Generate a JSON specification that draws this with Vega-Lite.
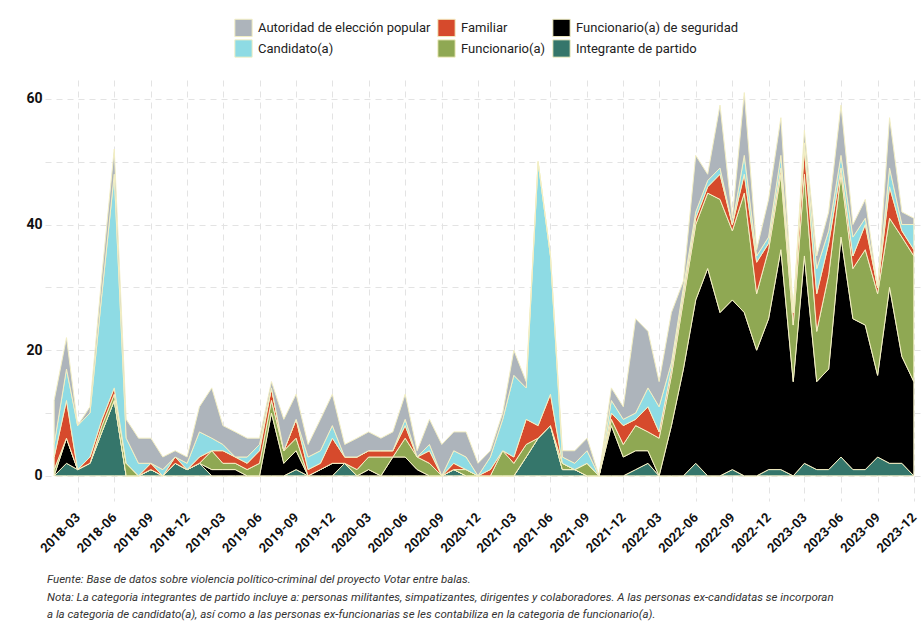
{
"$schema": "https://vega.github.io/schema/vega-lite/v6.json",
"width": 876,
"height": 421,
"autosize": {"type": "none"},
"padding": {"left": 45, "top": 80, "right": 0, "bottom": 121},
"background": "white",
"config": {"view": {"stroke": null}, "font": "Roboto, sans-serif"},
"datasets": {
"conteos": [
{"mes":"2018-01","cat":"Integrante de partido","n":0},{"mes":"2018-01","cat":"Funcionario(a) de seguridad","n":0},{"mes":"2018-01","cat":"Funcionario(a)","n":1},{"mes":"2018-01","cat":"Familiar","n":2},{"mes":"2018-01","cat":"Candidato(a)","n":2},{"mes":"2018-01","cat":"Autoridad de elección popular","n":7},
{"mes":"2018-02","cat":"Integrante de partido","n":2},{"mes":"2018-02","cat":"Funcionario(a) de seguridad","n":4},{"mes":"2018-02","cat":"Funcionario(a)","n":0},{"mes":"2018-02","cat":"Familiar","n":6},{"mes":"2018-02","cat":"Candidato(a)","n":5},{"mes":"2018-02","cat":"Autoridad de elección popular","n":5},
{"mes":"2018-03","cat":"Integrante de partido","n":1},{"mes":"2018-03","cat":"Funcionario(a) de seguridad","n":0},{"mes":"2018-03","cat":"Funcionario(a)","n":0},{"mes":"2018-03","cat":"Familiar","n":0},{"mes":"2018-03","cat":"Candidato(a)","n":7},{"mes":"2018-03","cat":"Autoridad de elección popular","n":0},
{"mes":"2018-04","cat":"Integrante de partido","n":2},{"mes":"2018-04","cat":"Funcionario(a) de seguridad","n":0},{"mes":"2018-04","cat":"Funcionario(a)","n":0},{"mes":"2018-04","cat":"Familiar","n":1},{"mes":"2018-04","cat":"Candidato(a)","n":7},{"mes":"2018-04","cat":"Autoridad de elección popular","n":1},
{"mes":"2018-05","cat":"Integrante de partido","n":7},{"mes":"2018-05","cat":"Funcionario(a) de seguridad","n":0},{"mes":"2018-05","cat":"Funcionario(a)","n":1},{"mes":"2018-05","cat":"Familiar","n":1},{"mes":"2018-05","cat":"Candidato(a)","n":20},{"mes":"2018-05","cat":"Autoridad de elección popular","n":3},
{"mes":"2018-06","cat":"Integrante de partido","n":12},{"mes":"2018-06","cat":"Funcionario(a) de seguridad","n":0},{"mes":"2018-06","cat":"Funcionario(a)","n":1},{"mes":"2018-06","cat":"Familiar","n":1},{"mes":"2018-06","cat":"Candidato(a)","n":34},{"mes":"2018-06","cat":"Autoridad de elección popular","n":4},
{"mes":"2018-07","cat":"Integrante de partido","n":0},{"mes":"2018-07","cat":"Funcionario(a) de seguridad","n":0},{"mes":"2018-07","cat":"Funcionario(a)","n":2},{"mes":"2018-07","cat":"Familiar","n":0},{"mes":"2018-07","cat":"Candidato(a)","n":4},{"mes":"2018-07","cat":"Autoridad de elección popular","n":3},
{"mes":"2018-08","cat":"Integrante de partido","n":0},{"mes":"2018-08","cat":"Funcionario(a) de seguridad","n":0},{"mes":"2018-08","cat":"Funcionario(a)","n":0},{"mes":"2018-08","cat":"Familiar","n":0},{"mes":"2018-08","cat":"Candidato(a)","n":2},{"mes":"2018-08","cat":"Autoridad de elección popular","n":4},
{"mes":"2018-09","cat":"Integrante de partido","n":1},{"mes":"2018-09","cat":"Funcionario(a) de seguridad","n":0},{"mes":"2018-09","cat":"Funcionario(a)","n":0},{"mes":"2018-09","cat":"Familiar","n":1},{"mes":"2018-09","cat":"Candidato(a)","n":0},{"mes":"2018-09","cat":"Autoridad de elección popular","n":4},
{"mes":"2018-10","cat":"Integrante de partido","n":0},{"mes":"2018-10","cat":"Funcionario(a) de seguridad","n":0},{"mes":"2018-10","cat":"Funcionario(a)","n":0},{"mes":"2018-10","cat":"Familiar","n":0},{"mes":"2018-10","cat":"Candidato(a)","n":1},{"mes":"2018-10","cat":"Autoridad de elección popular","n":2},
{"mes":"2018-11","cat":"Integrante de partido","n":2},{"mes":"2018-11","cat":"Funcionario(a) de seguridad","n":0},{"mes":"2018-11","cat":"Funcionario(a)","n":0},{"mes":"2018-11","cat":"Familiar","n":1},{"mes":"2018-11","cat":"Candidato(a)","n":0},{"mes":"2018-11","cat":"Autoridad de elección popular","n":1},
{"mes":"2018-12","cat":"Integrante de partido","n":1},{"mes":"2018-12","cat":"Funcionario(a) de seguridad","n":0},{"mes":"2018-12","cat":"Funcionario(a)","n":0},{"mes":"2018-12","cat":"Familiar","n":0},{"mes":"2018-12","cat":"Candidato(a)","n":1},{"mes":"2018-12","cat":"Autoridad de elección popular","n":1},
{"mes":"2019-01","cat":"Integrante de partido","n":2},{"mes":"2019-01","cat":"Funcionario(a) de seguridad","n":0},{"mes":"2019-01","cat":"Funcionario(a)","n":0},{"mes":"2019-01","cat":"Familiar","n":1},{"mes":"2019-01","cat":"Candidato(a)","n":4},{"mes":"2019-01","cat":"Autoridad de elección popular","n":4},
{"mes":"2019-02","cat":"Integrante de partido","n":0},{"mes":"2019-02","cat":"Funcionario(a) de seguridad","n":1},{"mes":"2019-02","cat":"Funcionario(a)","n":3},{"mes":"2019-02","cat":"Familiar","n":0},{"mes":"2019-02","cat":"Candidato(a)","n":2},{"mes":"2019-02","cat":"Autoridad de elección popular","n":8},
{"mes":"2019-03","cat":"Integrante de partido","n":0},{"mes":"2019-03","cat":"Funcionario(a) de seguridad","n":1},{"mes":"2019-03","cat":"Funcionario(a)","n":1},{"mes":"2019-03","cat":"Familiar","n":2},{"mes":"2019-03","cat":"Candidato(a)","n":1},{"mes":"2019-03","cat":"Autoridad de elección popular","n":3},
{"mes":"2019-04","cat":"Integrante de partido","n":0},{"mes":"2019-04","cat":"Funcionario(a) de seguridad","n":1},{"mes":"2019-04","cat":"Funcionario(a)","n":1},{"mes":"2019-04","cat":"Familiar","n":1},{"mes":"2019-04","cat":"Candidato(a)","n":0},{"mes":"2019-04","cat":"Autoridad de elección popular","n":4},
{"mes":"2019-05","cat":"Integrante de partido","n":0},{"mes":"2019-05","cat":"Funcionario(a) de seguridad","n":0},{"mes":"2019-05","cat":"Funcionario(a)","n":1},{"mes":"2019-05","cat":"Familiar","n":1},{"mes":"2019-05","cat":"Candidato(a)","n":1},{"mes":"2019-05","cat":"Autoridad de elección popular","n":3},
{"mes":"2019-06","cat":"Integrante de partido","n":0},{"mes":"2019-06","cat":"Funcionario(a) de seguridad","n":0},{"mes":"2019-06","cat":"Funcionario(a)","n":2},{"mes":"2019-06","cat":"Familiar","n":2},{"mes":"2019-06","cat":"Candidato(a)","n":1},{"mes":"2019-06","cat":"Autoridad de elección popular","n":1},
{"mes":"2019-07","cat":"Integrante de partido","n":0},{"mes":"2019-07","cat":"Funcionario(a) de seguridad","n":10},{"mes":"2019-07","cat":"Funcionario(a)","n":2},{"mes":"2019-07","cat":"Familiar","n":2},{"mes":"2019-07","cat":"Candidato(a)","n":0},{"mes":"2019-07","cat":"Autoridad de elección popular","n":1},
{"mes":"2019-08","cat":"Integrante de partido","n":0},{"mes":"2019-08","cat":"Funcionario(a) de seguridad","n":2},{"mes":"2019-08","cat":"Funcionario(a)","n":2},{"mes":"2019-08","cat":"Familiar","n":0},{"mes":"2019-08","cat":"Candidato(a)","n":0},{"mes":"2019-08","cat":"Autoridad de elección popular","n":5},
{"mes":"2019-09","cat":"Integrante de partido","n":1},{"mes":"2019-09","cat":"Funcionario(a) de seguridad","n":3},{"mes":"2019-09","cat":"Funcionario(a)","n":2},{"mes":"2019-09","cat":"Familiar","n":3},{"mes":"2019-09","cat":"Candidato(a)","n":0},{"mes":"2019-09","cat":"Autoridad de elección popular","n":4},
{"mes":"2019-10","cat":"Integrante de partido","n":0},{"mes":"2019-10","cat":"Funcionario(a) de seguridad","n":0},{"mes":"2019-10","cat":"Funcionario(a)","n":0},{"mes":"2019-10","cat":"Familiar","n":1},{"mes":"2019-10","cat":"Candidato(a)","n":2},{"mes":"2019-10","cat":"Autoridad de elección popular","n":2},
{"mes":"2019-11","cat":"Integrante de partido","n":0},{"mes":"2019-11","cat":"Funcionario(a) de seguridad","n":1},{"mes":"2019-11","cat":"Funcionario(a)","n":0},{"mes":"2019-11","cat":"Familiar","n":1},{"mes":"2019-11","cat":"Candidato(a)","n":2},{"mes":"2019-11","cat":"Autoridad de elección popular","n":5},
{"mes":"2019-12","cat":"Integrante de partido","n":0},{"mes":"2019-12","cat":"Funcionario(a) de seguridad","n":2},{"mes":"2019-12","cat":"Funcionario(a)","n":0},{"mes":"2019-12","cat":"Familiar","n":4},{"mes":"2019-12","cat":"Candidato(a)","n":2},{"mes":"2019-12","cat":"Autoridad de elección popular","n":5},
{"mes":"2020-01","cat":"Integrante de partido","n":2},{"mes":"2020-01","cat":"Funcionario(a) de seguridad","n":0},{"mes":"2020-01","cat":"Funcionario(a)","n":0},{"mes":"2020-01","cat":"Familiar","n":1},{"mes":"2020-01","cat":"Candidato(a)","n":0},{"mes":"2020-01","cat":"Autoridad de elección popular","n":2},
{"mes":"2020-02","cat":"Integrante de partido","n":0},{"mes":"2020-02","cat":"Funcionario(a) de seguridad","n":0},{"mes":"2020-02","cat":"Funcionario(a)","n":1},{"mes":"2020-02","cat":"Familiar","n":2},{"mes":"2020-02","cat":"Candidato(a)","n":0},{"mes":"2020-02","cat":"Autoridad de elección popular","n":3},
{"mes":"2020-03","cat":"Integrante de partido","n":0},{"mes":"2020-03","cat":"Funcionario(a) de seguridad","n":1},{"mes":"2020-03","cat":"Funcionario(a)","n":2},{"mes":"2020-03","cat":"Familiar","n":1},{"mes":"2020-03","cat":"Candidato(a)","n":0},{"mes":"2020-03","cat":"Autoridad de elección popular","n":3},
{"mes":"2020-04","cat":"Integrante de partido","n":0},{"mes":"2020-04","cat":"Funcionario(a) de seguridad","n":0},{"mes":"2020-04","cat":"Funcionario(a)","n":3},{"mes":"2020-04","cat":"Familiar","n":1},{"mes":"2020-04","cat":"Candidato(a)","n":0},{"mes":"2020-04","cat":"Autoridad de elección popular","n":2},
{"mes":"2020-05","cat":"Integrante de partido","n":0},{"mes":"2020-05","cat":"Funcionario(a) de seguridad","n":3},{"mes":"2020-05","cat":"Funcionario(a)","n":0},{"mes":"2020-05","cat":"Familiar","n":1},{"mes":"2020-05","cat":"Candidato(a)","n":0},{"mes":"2020-05","cat":"Autoridad de elección popular","n":3},
{"mes":"2020-06","cat":"Integrante de partido","n":0},{"mes":"2020-06","cat":"Funcionario(a) de seguridad","n":3},{"mes":"2020-06","cat":"Funcionario(a)","n":3},{"mes":"2020-06","cat":"Familiar","n":2},{"mes":"2020-06","cat":"Candidato(a)","n":1},{"mes":"2020-06","cat":"Autoridad de elección popular","n":4},
{"mes":"2020-07","cat":"Integrante de partido","n":0},{"mes":"2020-07","cat":"Funcionario(a) de seguridad","n":1},{"mes":"2020-07","cat":"Funcionario(a)","n":2},{"mes":"2020-07","cat":"Familiar","n":0},{"mes":"2020-07","cat":"Candidato(a)","n":0},{"mes":"2020-07","cat":"Autoridad de elección popular","n":1},
{"mes":"2020-08","cat":"Integrante de partido","n":0},{"mes":"2020-08","cat":"Funcionario(a) de seguridad","n":0},{"mes":"2020-08","cat":"Funcionario(a)","n":2},{"mes":"2020-08","cat":"Familiar","n":2},{"mes":"2020-08","cat":"Candidato(a)","n":1},{"mes":"2020-08","cat":"Autoridad de elección popular","n":4},
{"mes":"2020-09","cat":"Integrante de partido","n":0},{"mes":"2020-09","cat":"Funcionario(a) de seguridad","n":0},{"mes":"2020-09","cat":"Funcionario(a)","n":0},{"mes":"2020-09","cat":"Familiar","n":0},{"mes":"2020-09","cat":"Candidato(a)","n":0},{"mes":"2020-09","cat":"Autoridad de elección popular","n":5},
{"mes":"2020-10","cat":"Integrante de partido","n":1},{"mes":"2020-10","cat":"Funcionario(a) de seguridad","n":0},{"mes":"2020-10","cat":"Funcionario(a)","n":0},{"mes":"2020-10","cat":"Familiar","n":1},{"mes":"2020-10","cat":"Candidato(a)","n":2},{"mes":"2020-10","cat":"Autoridad de elección popular","n":3},
{"mes":"2020-11","cat":"Integrante de partido","n":0},{"mes":"2020-11","cat":"Funcionario(a) de seguridad","n":0},{"mes":"2020-11","cat":"Funcionario(a)","n":1},{"mes":"2020-11","cat":"Familiar","n":0},{"mes":"2020-11","cat":"Candidato(a)","n":2},{"mes":"2020-11","cat":"Autoridad de elección popular","n":4},
{"mes":"2020-12","cat":"Integrante de partido","n":0},{"mes":"2020-12","cat":"Funcionario(a) de seguridad","n":0},{"mes":"2020-12","cat":"Funcionario(a)","n":0},{"mes":"2020-12","cat":"Familiar","n":0},{"mes":"2020-12","cat":"Candidato(a)","n":0},{"mes":"2020-12","cat":"Autoridad de elección popular","n":2},
{"mes":"2021-01","cat":"Integrante de partido","n":0},{"mes":"2021-01","cat":"Funcionario(a) de seguridad","n":0},{"mes":"2021-01","cat":"Funcionario(a)","n":0},{"mes":"2021-01","cat":"Familiar","n":1},{"mes":"2021-01","cat":"Candidato(a)","n":2},{"mes":"2021-01","cat":"Autoridad de elección popular","n":1},
{"mes":"2021-02","cat":"Integrante de partido","n":0},{"mes":"2021-02","cat":"Funcionario(a) de seguridad","n":0},{"mes":"2021-02","cat":"Funcionario(a)","n":4},{"mes":"2021-02","cat":"Familiar","n":0},{"mes":"2021-02","cat":"Candidato(a)","n":5},{"mes":"2021-02","cat":"Autoridad de elección popular","n":1},
{"mes":"2021-03","cat":"Integrante de partido","n":0},{"mes":"2021-03","cat":"Funcionario(a) de seguridad","n":0},{"mes":"2021-03","cat":"Funcionario(a)","n":2},{"mes":"2021-03","cat":"Familiar","n":1},{"mes":"2021-03","cat":"Candidato(a)","n":13},{"mes":"2021-03","cat":"Autoridad de elección popular","n":4},
{"mes":"2021-04","cat":"Integrante de partido","n":3},{"mes":"2021-04","cat":"Funcionario(a) de seguridad","n":0},{"mes":"2021-04","cat":"Funcionario(a)","n":2},{"mes":"2021-04","cat":"Familiar","n":4},{"mes":"2021-04","cat":"Candidato(a)","n":5},{"mes":"2021-04","cat":"Autoridad de elección popular","n":1},
{"mes":"2021-05","cat":"Integrante de partido","n":6},{"mes":"2021-05","cat":"Funcionario(a) de seguridad","n":0},{"mes":"2021-05","cat":"Funcionario(a)","n":0},{"mes":"2021-05","cat":"Familiar","n":2},{"mes":"2021-05","cat":"Candidato(a)","n":42},{"mes":"2021-05","cat":"Autoridad de elección popular","n":0},
{"mes":"2021-06","cat":"Integrante de partido","n":8},{"mes":"2021-06","cat":"Funcionario(a) de seguridad","n":0},{"mes":"2021-06","cat":"Funcionario(a)","n":0},{"mes":"2021-06","cat":"Familiar","n":5},{"mes":"2021-06","cat":"Candidato(a)","n":22},{"mes":"2021-06","cat":"Autoridad de elección popular","n":0},
{"mes":"2021-07","cat":"Integrante de partido","n":1},{"mes":"2021-07","cat":"Funcionario(a) de seguridad","n":0},{"mes":"2021-07","cat":"Funcionario(a)","n":1},{"mes":"2021-07","cat":"Familiar","n":0},{"mes":"2021-07","cat":"Candidato(a)","n":1},{"mes":"2021-07","cat":"Autoridad de elección popular","n":1},
{"mes":"2021-08","cat":"Integrante de partido","n":1},{"mes":"2021-08","cat":"Funcionario(a) de seguridad","n":0},{"mes":"2021-08","cat":"Funcionario(a)","n":0},{"mes":"2021-08","cat":"Familiar","n":0},{"mes":"2021-08","cat":"Candidato(a)","n":1},{"mes":"2021-08","cat":"Autoridad de elección popular","n":2},
{"mes":"2021-09","cat":"Integrante de partido","n":0},{"mes":"2021-09","cat":"Funcionario(a) de seguridad","n":0},{"mes":"2021-09","cat":"Funcionario(a)","n":2},{"mes":"2021-09","cat":"Familiar","n":0},{"mes":"2021-09","cat":"Candidato(a)","n":2},{"mes":"2021-09","cat":"Autoridad de elección popular","n":2},
{"mes":"2021-10","cat":"Integrante de partido","n":0},{"mes":"2021-10","cat":"Funcionario(a) de seguridad","n":0},{"mes":"2021-10","cat":"Funcionario(a)","n":0},{"mes":"2021-10","cat":"Familiar","n":0},{"mes":"2021-10","cat":"Candidato(a)","n":0},{"mes":"2021-10","cat":"Autoridad de elección popular","n":0},
{"mes":"2021-11","cat":"Integrante de partido","n":0},{"mes":"2021-11","cat":"Funcionario(a) de seguridad","n":8},{"mes":"2021-11","cat":"Funcionario(a)","n":1},{"mes":"2021-11","cat":"Familiar","n":1},{"mes":"2021-11","cat":"Candidato(a)","n":2},{"mes":"2021-11","cat":"Autoridad de elección popular","n":2},
{"mes":"2021-12","cat":"Integrante de partido","n":0},{"mes":"2021-12","cat":"Funcionario(a) de seguridad","n":3},{"mes":"2021-12","cat":"Funcionario(a)","n":2},{"mes":"2021-12","cat":"Familiar","n":3},{"mes":"2021-12","cat":"Candidato(a)","n":1},{"mes":"2021-12","cat":"Autoridad de elección popular","n":2},
{"mes":"2022-01","cat":"Integrante de partido","n":1},{"mes":"2022-01","cat":"Funcionario(a) de seguridad","n":3},{"mes":"2022-01","cat":"Funcionario(a)","n":4},{"mes":"2022-01","cat":"Familiar","n":1},{"mes":"2022-01","cat":"Candidato(a)","n":1},{"mes":"2022-01","cat":"Autoridad de elección popular","n":15},
{"mes":"2022-02","cat":"Integrante de partido","n":2},{"mes":"2022-02","cat":"Funcionario(a) de seguridad","n":2},{"mes":"2022-02","cat":"Funcionario(a)","n":3},{"mes":"2022-02","cat":"Familiar","n":4},{"mes":"2022-02","cat":"Candidato(a)","n":3},{"mes":"2022-02","cat":"Autoridad de elección popular","n":9},
{"mes":"2022-03","cat":"Integrante de partido","n":0},{"mes":"2022-03","cat":"Funcionario(a) de seguridad","n":0},{"mes":"2022-03","cat":"Funcionario(a)","n":6},{"mes":"2022-03","cat":"Familiar","n":1},{"mes":"2022-03","cat":"Candidato(a)","n":4},{"mes":"2022-03","cat":"Autoridad de elección popular","n":4},
{"mes":"2022-04","cat":"Integrante de partido","n":0},{"mes":"2022-04","cat":"Funcionario(a) de seguridad","n":8},{"mes":"2022-04","cat":"Funcionario(a)","n":8},{"mes":"2022-04","cat":"Familiar","n":1},{"mes":"2022-04","cat":"Candidato(a)","n":1},{"mes":"2022-04","cat":"Autoridad de elección popular","n":8},
{"mes":"2022-05","cat":"Integrante de partido","n":0},{"mes":"2022-05","cat":"Funcionario(a) de seguridad","n":17},{"mes":"2022-05","cat":"Funcionario(a)","n":11},{"mes":"2022-05","cat":"Familiar","n":1},{"mes":"2022-05","cat":"Candidato(a)","n":1},{"mes":"2022-05","cat":"Autoridad de elección popular","n":1},
{"mes":"2022-06","cat":"Integrante de partido","n":2},{"mes":"2022-06","cat":"Funcionario(a) de seguridad","n":26},{"mes":"2022-06","cat":"Funcionario(a)","n":12},{"mes":"2022-06","cat":"Familiar","n":1},{"mes":"2022-06","cat":"Candidato(a)","n":1},{"mes":"2022-06","cat":"Autoridad de elección popular","n":9},
{"mes":"2022-07","cat":"Integrante de partido","n":0},{"mes":"2022-07","cat":"Funcionario(a) de seguridad","n":33},{"mes":"2022-07","cat":"Funcionario(a)","n":12},{"mes":"2022-07","cat":"Familiar","n":1},{"mes":"2022-07","cat":"Candidato(a)","n":1},{"mes":"2022-07","cat":"Autoridad de elección popular","n":1},
{"mes":"2022-08","cat":"Integrante de partido","n":0},{"mes":"2022-08","cat":"Funcionario(a) de seguridad","n":26},{"mes":"2022-08","cat":"Funcionario(a)","n":18},{"mes":"2022-08","cat":"Familiar","n":4},{"mes":"2022-08","cat":"Candidato(a)","n":1},{"mes":"2022-08","cat":"Autoridad de elección popular","n":10},
{"mes":"2022-09","cat":"Integrante de partido","n":1},{"mes":"2022-09","cat":"Funcionario(a) de seguridad","n":27},{"mes":"2022-09","cat":"Funcionario(a)","n":11},{"mes":"2022-09","cat":"Familiar","n":1},{"mes":"2022-09","cat":"Candidato(a)","n":0},{"mes":"2022-09","cat":"Autoridad de elección popular","n":1},
{"mes":"2022-10","cat":"Integrante de partido","n":0},{"mes":"2022-10","cat":"Funcionario(a) de seguridad","n":26},{"mes":"2022-10","cat":"Funcionario(a)","n":19},{"mes":"2022-10","cat":"Familiar","n":3},{"mes":"2022-10","cat":"Candidato(a)","n":3},{"mes":"2022-10","cat":"Autoridad de elección popular","n":10},
{"mes":"2022-11","cat":"Integrante de partido","n":0},{"mes":"2022-11","cat":"Funcionario(a) de seguridad","n":20},{"mes":"2022-11","cat":"Funcionario(a)","n":9},{"mes":"2022-11","cat":"Familiar","n":5},{"mes":"2022-11","cat":"Candidato(a)","n":1},{"mes":"2022-11","cat":"Autoridad de elección popular","n":1},
{"mes":"2022-12","cat":"Integrante de partido","n":1},{"mes":"2022-12","cat":"Funcionario(a) de seguridad","n":24},{"mes":"2022-12","cat":"Funcionario(a)","n":11},{"mes":"2022-12","cat":"Familiar","n":1},{"mes":"2022-12","cat":"Candidato(a)","n":1},{"mes":"2022-12","cat":"Autoridad de elección popular","n":6},
{"mes":"2023-01","cat":"Integrante de partido","n":1},{"mes":"2023-01","cat":"Funcionario(a) de seguridad","n":35},{"mes":"2023-01","cat":"Funcionario(a)","n":12},{"mes":"2023-01","cat":"Familiar","n":1},{"mes":"2023-01","cat":"Candidato(a)","n":2},{"mes":"2023-01","cat":"Autoridad de elección popular","n":6},
{"mes":"2023-02","cat":"Integrante de partido","n":0},{"mes":"2023-02","cat":"Funcionario(a) de seguridad","n":15},{"mes":"2023-02","cat":"Funcionario(a)","n":9},{"mes":"2023-02","cat":"Familiar","n":2},{"mes":"2023-02","cat":"Candidato(a)","n":0},{"mes":"2023-02","cat":"Autoridad de elección popular","n":0},
{"mes":"2023-03","cat":"Integrante de partido","n":2},{"mes":"2023-03","cat":"Funcionario(a) de seguridad","n":33},{"mes":"2023-03","cat":"Funcionario(a)","n":13},{"mes":"2023-03","cat":"Familiar","n":4},{"mes":"2023-03","cat":"Candidato(a)","n":1},{"mes":"2023-03","cat":"Autoridad de elección popular","n":2},
{"mes":"2023-04","cat":"Integrante de partido","n":1},{"mes":"2023-04","cat":"Funcionario(a) de seguridad","n":14},{"mes":"2023-04","cat":"Funcionario(a)","n":8},{"mes":"2023-04","cat":"Familiar","n":6},{"mes":"2023-04","cat":"Candidato(a)","n":4},{"mes":"2023-04","cat":"Autoridad de elección popular","n":2},
{"mes":"2023-05","cat":"Integrante de partido","n":1},{"mes":"2023-05","cat":"Funcionario(a) de seguridad","n":16},{"mes":"2023-05","cat":"Funcionario(a)","n":15},{"mes":"2023-05","cat":"Familiar","n":5},{"mes":"2023-05","cat":"Candidato(a)","n":2},{"mes":"2023-05","cat":"Autoridad de elección popular","n":3},
{"mes":"2023-06","cat":"Integrante de partido","n":3},{"mes":"2023-06","cat":"Funcionario(a) de seguridad","n":35},{"mes":"2023-06","cat":"Funcionario(a)","n":10},{"mes":"2023-06","cat":"Familiar","n":1},{"mes":"2023-06","cat":"Candidato(a)","n":2},{"mes":"2023-06","cat":"Autoridad de elección popular","n":8},
{"mes":"2023-07","cat":"Integrante de partido","n":1},{"mes":"2023-07","cat":"Funcionario(a) de seguridad","n":24},{"mes":"2023-07","cat":"Funcionario(a)","n":8},{"mes":"2023-07","cat":"Familiar","n":2},{"mes":"2023-07","cat":"Candidato(a)","n":3},{"mes":"2023-07","cat":"Autoridad de elección popular","n":2},
{"mes":"2023-08","cat":"Integrante de partido","n":1},{"mes":"2023-08","cat":"Funcionario(a) de seguridad","n":23},{"mes":"2023-08","cat":"Funcionario(a)","n":12},{"mes":"2023-08","cat":"Familiar","n":4},{"mes":"2023-08","cat":"Candidato(a)","n":1},{"mes":"2023-08","cat":"Autoridad de elección popular","n":3},
{"mes":"2023-09","cat":"Integrante de partido","n":3},{"mes":"2023-09","cat":"Funcionario(a) de seguridad","n":13},{"mes":"2023-09","cat":"Funcionario(a)","n":13},{"mes":"2023-09","cat":"Familiar","n":1},{"mes":"2023-09","cat":"Candidato(a)","n":0},{"mes":"2023-09","cat":"Autoridad de elección popular","n":0},
{"mes":"2023-10","cat":"Integrante de partido","n":2},{"mes":"2023-10","cat":"Funcionario(a) de seguridad","n":28},{"mes":"2023-10","cat":"Funcionario(a)","n":11},{"mes":"2023-10","cat":"Familiar","n":5},{"mes":"2023-10","cat":"Candidato(a)","n":3},{"mes":"2023-10","cat":"Autoridad de elección popular","n":8},
{"mes":"2023-11","cat":"Integrante de partido","n":2},{"mes":"2023-11","cat":"Funcionario(a) de seguridad","n":17},{"mes":"2023-11","cat":"Funcionario(a)","n":19},{"mes":"2023-11","cat":"Familiar","n":1},{"mes":"2023-11","cat":"Candidato(a)","n":1},{"mes":"2023-11","cat":"Autoridad de elección popular","n":2},
{"mes":"2023-12","cat":"Integrante de partido","n":0},{"mes":"2023-12","cat":"Funcionario(a) de seguridad","n":15},{"mes":"2023-12","cat":"Funcionario(a)","n":20},{"mes":"2023-12","cat":"Familiar","n":1},{"mes":"2023-12","cat":"Candidato(a)","n":4},{"mes":"2023-12","cat":"Autoridad de elección popular","n":1}
]
},
"data": {"name": "conteos", "format": {"parse": {"mes": "utc:'%Y-%m'"}}},
"mark": {"type": "area", "interpolate": "linear", "stroke": "#f3efc4", "strokeWidth": 1, "strokeJoin": "round"},
"encoding": {
"x": {"field": "mes", "type": "temporal",
"scale": {"type": "utc", "domain": [{"year": 2017, "month": 12, "date": 9, "utc": true}, {"year": 2023, "month": 12, "date": 19, "utc": true}]},
"axis": {"title": null,
"labelExpr": "utcFormat(datum.value, '%Y-%m')",
"values": [
{"year":2018,"month":3,"date":1,"utc":true},{"year":2018,"month":6,"date":1,"utc":true},{"year":2018,"month":9,"date":1,"utc":true},{"year":2018,"month":12,"date":1,"utc":true},
{"year":2019,"month":3,"date":1,"utc":true},{"year":2019,"month":6,"date":1,"utc":true},{"year":2019,"month":9,"date":1,"utc":true},{"year":2019,"month":12,"date":1,"utc":true},
{"year":2020,"month":3,"date":1,"utc":true},{"year":2020,"month":6,"date":1,"utc":true},{"year":2020,"month":9,"date":1,"utc":true},{"year":2020,"month":12,"date":1,"utc":true},
{"year":2021,"month":3,"date":1,"utc":true},{"year":2021,"month":6,"date":1,"utc":true},{"year":2021,"month":9,"date":1,"utc":true},{"year":2021,"month":12,"date":1,"utc":true},
{"year":2022,"month":3,"date":1,"utc":true},{"year":2022,"month":6,"date":1,"utc":true},{"year":2022,"month":9,"date":1,"utc":true},{"year":2022,"month":12,"date":1,"utc":true},
{"year":2023,"month":3,"date":1,"utc":true},{"year":2023,"month":6,"date":1,"utc":true},{"year":2023,"month":9,"date":1,"utc":true},{"year":2023,"month":12,"date":1,"utc":true}
],
"labelAngle": -45, "labelAlign": "right", "labelBaseline": "middle", "labelPadding": 14,
"labelFontSize": 13, "labelFontWeight": "bold", "labelColor": "#111111", "labelOverlap": false, "labelFlush": false,
"ticks": false, "domain": false,
"grid": true, "gridColor": "#e3e3e3", "gridDash": [6, 5], "gridWidth": 1}
},
"y": {"field": "n", "type": "quantitative", "stack": "zero",
"scale": {"domain": [-4, 63], "nice": false, "zero": false},
"axis": {"title": null, "values": [0, 10, 20, 30, 40, 50, 60],
"labelExpr": "datum.value % 20 === 0 ? datum.label : ''",
"labelFontSize": 14, "labelFontWeight": "bold", "labelColor": "#111111", "labelPadding": 3,
"ticks": false, "domain": false,
"grid": true, "gridColor": "#e3e3e3", "gridDash": [6, 5], "gridWidth": 1}
},
"color": {"field": "cat", "type": "nominal",
"scale": {"domain": ["Autoridad de elección popular", "Familiar", "Funcionario(a) de seguridad", "Candidato(a)", "Funcionario(a)", "Integrante de partido"],
"range": ["#adb4bb", "#d64a2c", "#000000", "#8edbe4", "#8fa853", "#35766b"]},
"legend": {"title": null, "orient": "none", "legendX": 189, "legendY": -62, "direction": "horizontal", "columns": 3,
"symbolType": "square", "symbolSize": 300, "symbolStrokeColor": "#f3efc4", "symbolStrokeWidth": 1, "symbolOpacity": 1,
"labelFontSize": 13, "labelColor": "#222222", "labelOffset": 5, "columnPadding": 4, "rowPadding": -3, "labelLimit": 300}
},
"order": {"field": "cat", "sort": "descending"}
},
"title": {
"text": [
"Fuente: Base de datos sobre violencia político-criminal del proyecto Votar entre balas.",
"Nota: La categoria integrantes de partido incluye a: personas militantes, simpatizantes, dirigentes y colaboradores. A las personas ex-candidatas se incorporan",
"a la categoria de candidato(a), así como a las personas ex-funcionarias se les contabiliza en la categoria de  funcionario(a)."
],
"orient": "bottom", "anchor": "start", "frame": "group", "offset": 19, "dx": 2,
"fontSize": 11.5, "fontWeight": "normal", "fontStyle": "italic", "color": "#333333", "lineHeight": 17.5
}
}
